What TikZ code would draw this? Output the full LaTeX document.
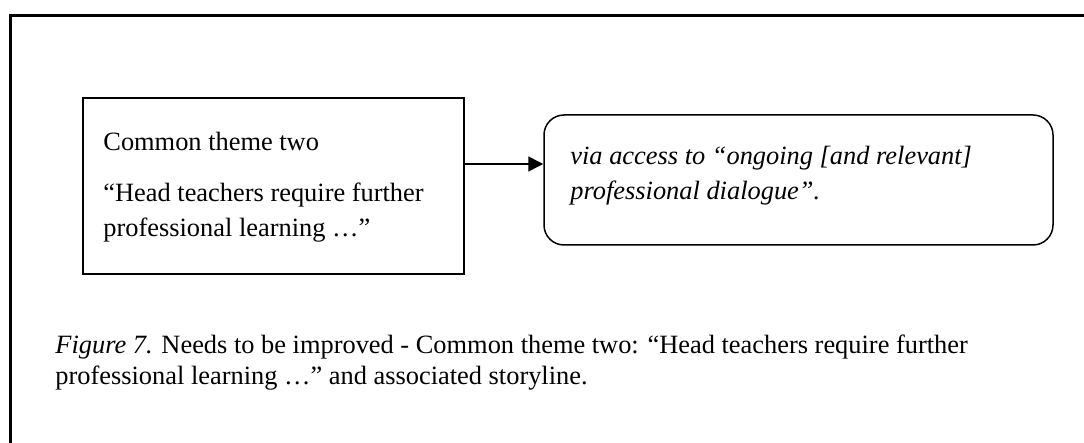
\documentclass[tikz,border=0pt]{standalone}
\usepackage{fontspec}
\setmainfont{Liberation Serif}
\usetikzlibrary{arrows.meta}
\tikzset{
  boxline/.style={draw=black, line width=0.75pt},
  sqbox/.style={boxline, rectangle, minimum width=190.5pt, minimum height=88pt, inner sep=0pt},
  rbox/.style={boxline, rectangle, rounded corners=10pt, minimum width=254.5pt, minimum height=65pt, inner sep=0pt},
  txt/.style={anchor=base west, inner sep=0pt, font=\fontsize{13.2}{16}\selectfont},
  arr/.style={draw=black, line width=0.75pt, -{Triangle[length=7.5pt,width=7.5pt]}},
  frame/.style={draw=black, line width=1.35pt}
}
\begin{document}
\begin{tikzpicture}[x=0.5pt,y=-0.5pt]
\useasboundingbox (0,0) rectangle (1084,443);
% outer frame (cut off on right and bottom)
\coordinate (fb) at (10.7,443);
\coordinate (ft) at (10.7,15.3);
\coordinate (fr) at (1084,15.3);
\draw[frame] (fb) -- (ft) -- (fr);
% boxes
\node[sqbox] (b1) at (273.5,186) {};
\node[rbox] (b2) at (798.5,180) {};
% connector
\draw[arr] ([yshift=11pt]b1.east) -- ([yshift=11pt]b1.east -| b2.west);
% left box text
\node[txt] (t1) at (103,151) {Common theme two};
\node[txt] (t2) at (103,202) {“Head teachers require further};
\node[txt] (t3) at (103,237) {professional learning …”};
% right box text
\node[txt] (r1) at (570,165) {\itshape via access to “ongoing [and relevant]};
\node[txt] (r2) at (570,200) {\itshape professional dialogue”.};
% caption
\node[txt] (c1) at (55,354) {{\itshape Figure 7.} Needs to be improved - Common theme two: “Head teachers require further};
\node[txt] (c2) at (55,385) {professional learning …” and associated storyline.};
\end{tikzpicture}
\end{document}
